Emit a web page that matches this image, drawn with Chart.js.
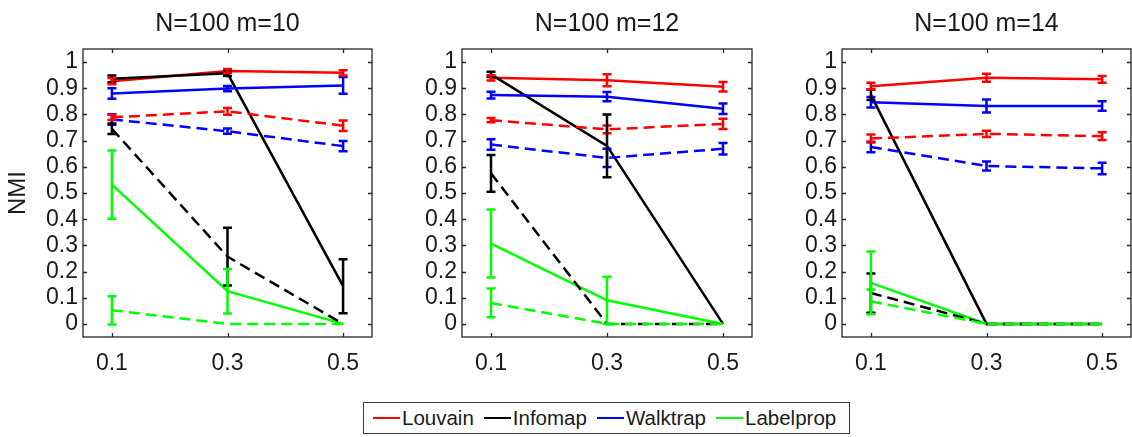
<!DOCTYPE html>
<html>
<head>
<meta charset="utf-8">
<title>NMI by mixing parameter</title>
<script src="https://cdn.jsdelivr.net/npm/chart.js@4"></script>
<style>
  body { margin: 0; background: #fff; font-family: "Liberation Sans", Arial, sans-serif; }
  #wrap { position: relative; width: 1132px; height: 437px; overflow: hidden; }
  #wrap canvas { position: absolute; top: 0; }
  #legend {
    position: absolute; left: 363px; top: 402px; width: 487px; height: 32px;
    border: 1px solid #3a3a3a; box-sizing: border-box;
    display: flex; align-items: center; padding-left: 9px;
    font-size: 20.5px; color: #1a1a1a;
  }
  #legend span.item { display: flex; align-items: center; margin-right: 10px; }
  #legend span.swatch { display: inline-block; width: 27px; height: 2px; margin-right: 2px; }
</style>
</head>
<body>
<div id="wrap">
  <canvas id="p0"></canvas>
  <canvas id="p1"></canvas>
  <canvas id="p2"></canvas>
  <div id="legend"></div>
</div>
<script>
// x positions (mixing parameter) and y tick labels
const xValues = [0.1, 0.3, 0.5];
const yTicks = [0, 0.1, 0.2, 0.3, 0.4, 0.5, 0.6, 0.7, 0.8, 0.9, 1];
const panelTitles = ['N=100 m=10', 'N=100 m=12', 'N=100 m=14'];
const methods = ['Louvain', 'Infomap', 'Walktrap', 'Labelprop'];
const methodColors = ['#ff0000', '#000000', '#0000ff', '#00ff00'];

// solid runs: one row per panel, one value per x
const louvainSolid   = [[0.927, 0.966, 0.959], [0.940, 0.931, 0.906], [0.908, 0.940, 0.934]];
const infomapSolid   = [[0.936, 0.957, 0.144], [0.953, 0.680, 0], [0.875, 0, 0]];
const walktrapSolid  = [[0.880, 0.899, 0.911], [0.874, 0.868, 0.822], [0.847, 0.832, 0.832]];
const labelpropSolid = [[0.532, 0.125, 0], [0.307, 0.090, 0], [0.157, 0, 0]];

const louvainSolidErr   = [[0.012, 0.008, 0.010], [0.010, 0.023, 0.018], [0.013, 0.015, 0.013]];
const infomapSolidErr   = [[0.013, 0.010, 0.103], [0.010, 0.120, 0], [0.020, 0, 0]];
const walktrapSolidErr  = [[0.020, 0.010, 0.032], [0.013, 0.018, 0.020], [0.020, 0.025, 0.018]];
const labelpropSolidErr = [[0.130, 0.085, 0], [0.130, 0.090, 0], [0.120, 0, 0]];

// dashed runs
const louvainDashed   = [[0.789, 0.812, 0.757], [0.778, 0.743, 0.764], [0.708, 0.726, 0.717]];
const infomapDashed   = [[0.745, 0.257, 0], [0.575, 0, 0], [0.118, 0, 0]];
const walktrapDashed  = [[0.781, 0.736, 0.679], [0.685, 0.634, 0.669], [0.676, 0.603, 0.594]];
const labelpropDashed = [[0.052, 0, 0], [0.080, 0, 0], [0.086, 0, 0]];

const louvainDashedErr   = [[0.010, 0.013, 0.020], [0.008, 0.015, 0.020], [0.015, 0.012, 0.015]];
const infomapDashedErr   = [[0.020, 0.110, 0], [0.070, 0, 0], [0.075, 0, 0]];
const walktrapDashedErr  = [[0.020, 0.010, 0.020], [0.020, 0.035, 0.022], [0.020, 0.017, 0.022]];
const labelpropDashedErr = [[0.054, 0, 0], [0.055, 0, 0], [0.045, 0, 0]];

const solidRuns = [louvainSolid, infomapSolid, walktrapSolid, labelpropSolid];
const solidErrs = [louvainSolidErr, infomapSolidErr, walktrapSolidErr, labelpropSolidErr];
const dashedRuns = [louvainDashed, infomapDashed, walktrapDashed, labelpropDashed];
const dashedErrs = [louvainDashedErr, infomapDashedErr, walktrapDashedErr, labelpropDashedErr];

// canvas placement: left edge, width, width of the y axis box
const panelLayout = [
  { left: 0, width: 373, yWidth: 83 },
  { left: 392, width: 361, yWidth: 70 },
  { left: 772, width: 360, yWidth: 70 },
];
const CANVAS_H = 395;
const TEXT = '#1a1a1a';
const FONT = '"Liberation Sans", Arial, sans-serif';

// vertical error bars with caps, drawn in the line's colour
const errorBars = {
  id: 'errorBars',
  afterDatasetsDraw(chart) {
    const { ctx, scales: { x, y } } = chart;
    chart.data.datasets.forEach((ds) => {
      if (!ds.err) return;
      ctx.save();
      ctx.strokeStyle = ds.borderColor;
      ctx.lineWidth = 2.5;
      ctx.setLineDash([]);
      ds.data.forEach((p, j) => {
        const e = ds.err[j];
        if (!e) return;
        const px = x.getPixelForValue(p.x);
        const hi = y.getPixelForValue(p.y + e);
        const lo = y.getPixelForValue(p.y - e);
        ctx.beginPath();
        ctx.moveTo(px, hi); ctx.lineTo(px, lo);
        ctx.moveTo(px - 4.5, hi); ctx.lineTo(px + 4.5, hi);
        ctx.moveTo(px - 4.5, lo); ctx.lineTo(px + 4.5, lo);
        ctx.stroke();
      });
      ctx.restore();
    });
  }
};

// box around the plot with short inward ticks on all four sides
const boxFrame = {
  id: 'boxFrame',
  beforeDatasetsDraw(chart) {
    const { ctx, chartArea: a, scales: { x, y } } = chart;
    ctx.save();
    ctx.strokeStyle = '#262626';
    ctx.lineWidth = 1.3;
    ctx.strokeRect(a.left, a.top, a.right - a.left, a.bottom - a.top);
    ctx.beginPath();
    const t = 4;
    xValues.forEach((v) => {
      const px = Math.round(x.getPixelForValue(v)) + 0.5;
      ctx.moveTo(px, a.bottom); ctx.lineTo(px, a.bottom - t);
      ctx.moveTo(px, a.top); ctx.lineTo(px, a.top + t);
    });
    yTicks.forEach((v) => {
      const py = Math.round(y.getPixelForValue(v)) + 0.5;
      ctx.moveTo(a.left, py); ctx.lineTo(a.left + t, py);
      ctx.moveTo(a.right, py); ctx.lineTo(a.right - t, py);
    });
    ctx.stroke();
    ctx.restore();
  }
};

function buildDatasets(panel) {
  const sets = [];
  const addRuns = (runs, errs, dash) => {
    runs.forEach((run, m) => {
      sets.push({
        label: methods[m] + (dash ? ' (dashed)' : ''),
        data: xValues.map((xv, j) => ({ x: xv, y: run[panel][j] })),
        err: errs[m][panel],
        borderColor: methodColors[m],
        borderWidth: 2.5,
        borderDash: dash ? [11, 6] : [],
        pointRadius: 0,
        fill: false,
        tension: 0,
      });
    });
  };
  addRuns(solidRuns, solidErrs, false);
  addRuns(dashedRuns, dashedErrs, true);
  // chart.js paints index 0 last; reverse so later runs sit on top
  return sets.reverse();
}

panelTitles.forEach((title, i) => {
  const lay = panelLayout[i];
  const canvas = document.getElementById('p' + i);
  canvas.width = lay.width;
  canvas.height = CANVAS_H;
  canvas.style.left = lay.left + 'px';

  new Chart(canvas, {
    type: 'line',
    data: { datasets: buildDatasets(i) },
    options: {
      responsive: false,
      animation: false,
      layout: { padding: { left: 0, right: 1, top: 0, bottom: 0 } },
      plugins: {
        legend: { display: false },
        tooltip: { enabled: false },
        title: {
          display: true,
          fullSize: false,
          text: title,
          color: TEXT,
          font: { family: FONT, size: 25, weight: 'normal' },
          padding: { top: 9, bottom: 10 },
        },
      },
      scales: {
        x: {
          type: 'linear',
          min: 0.05,
          max: 0.55,
          afterBuildTicks: (s) => { s.ticks = xValues.map((v) => ({ value: v })); },
          afterFit: (s) => { s.height = CANVAS_H - 337; },
          grid: { display: false, drawTicks: false },
          border: { display: false },
          ticks: {
            padding: 13,
            maxRotation: 0,
            autoSkip: false,
            color: TEXT,
            font: { family: FONT, size: 23 },
            callback: (v) => String(v),
          },
        },
        y: {
          type: 'linear',
          min: -0.05,
          max: 1.05,
          afterBuildTicks: (s) => { s.ticks = yTicks.map((v) => ({ value: v })); },
          afterFit: (s) => { s.width = lay.yWidth; },
          grid: { display: false, drawTicks: false },
          border: { display: false },
          ticks: {
            padding: 5,
            autoSkip: false,
            color: TEXT,
            font: { family: FONT, size: 23 },
            callback: (v) => String(v),
          },
          title: {
            display: i === 0,
            text: 'NMI',
            color: TEXT,
            font: { family: FONT, size: 24 },
            padding: { top: 4, bottom: 0 },
          },
        },
      },
    },
    plugins: [boxFrame, errorBars],
  });
});

// legend: one entry per method
const legend = document.getElementById('legend');
methods.forEach((name, m) => {
  const item = document.createElement('span');
  item.className = 'item';
  const sw = document.createElement('span');
  sw.className = 'swatch';
  sw.style.background = methodColors[m];
  item.appendChild(sw);
  item.appendChild(document.createTextNode(name));
  legend.appendChild(item);
});
</script>
</body>
</html>
